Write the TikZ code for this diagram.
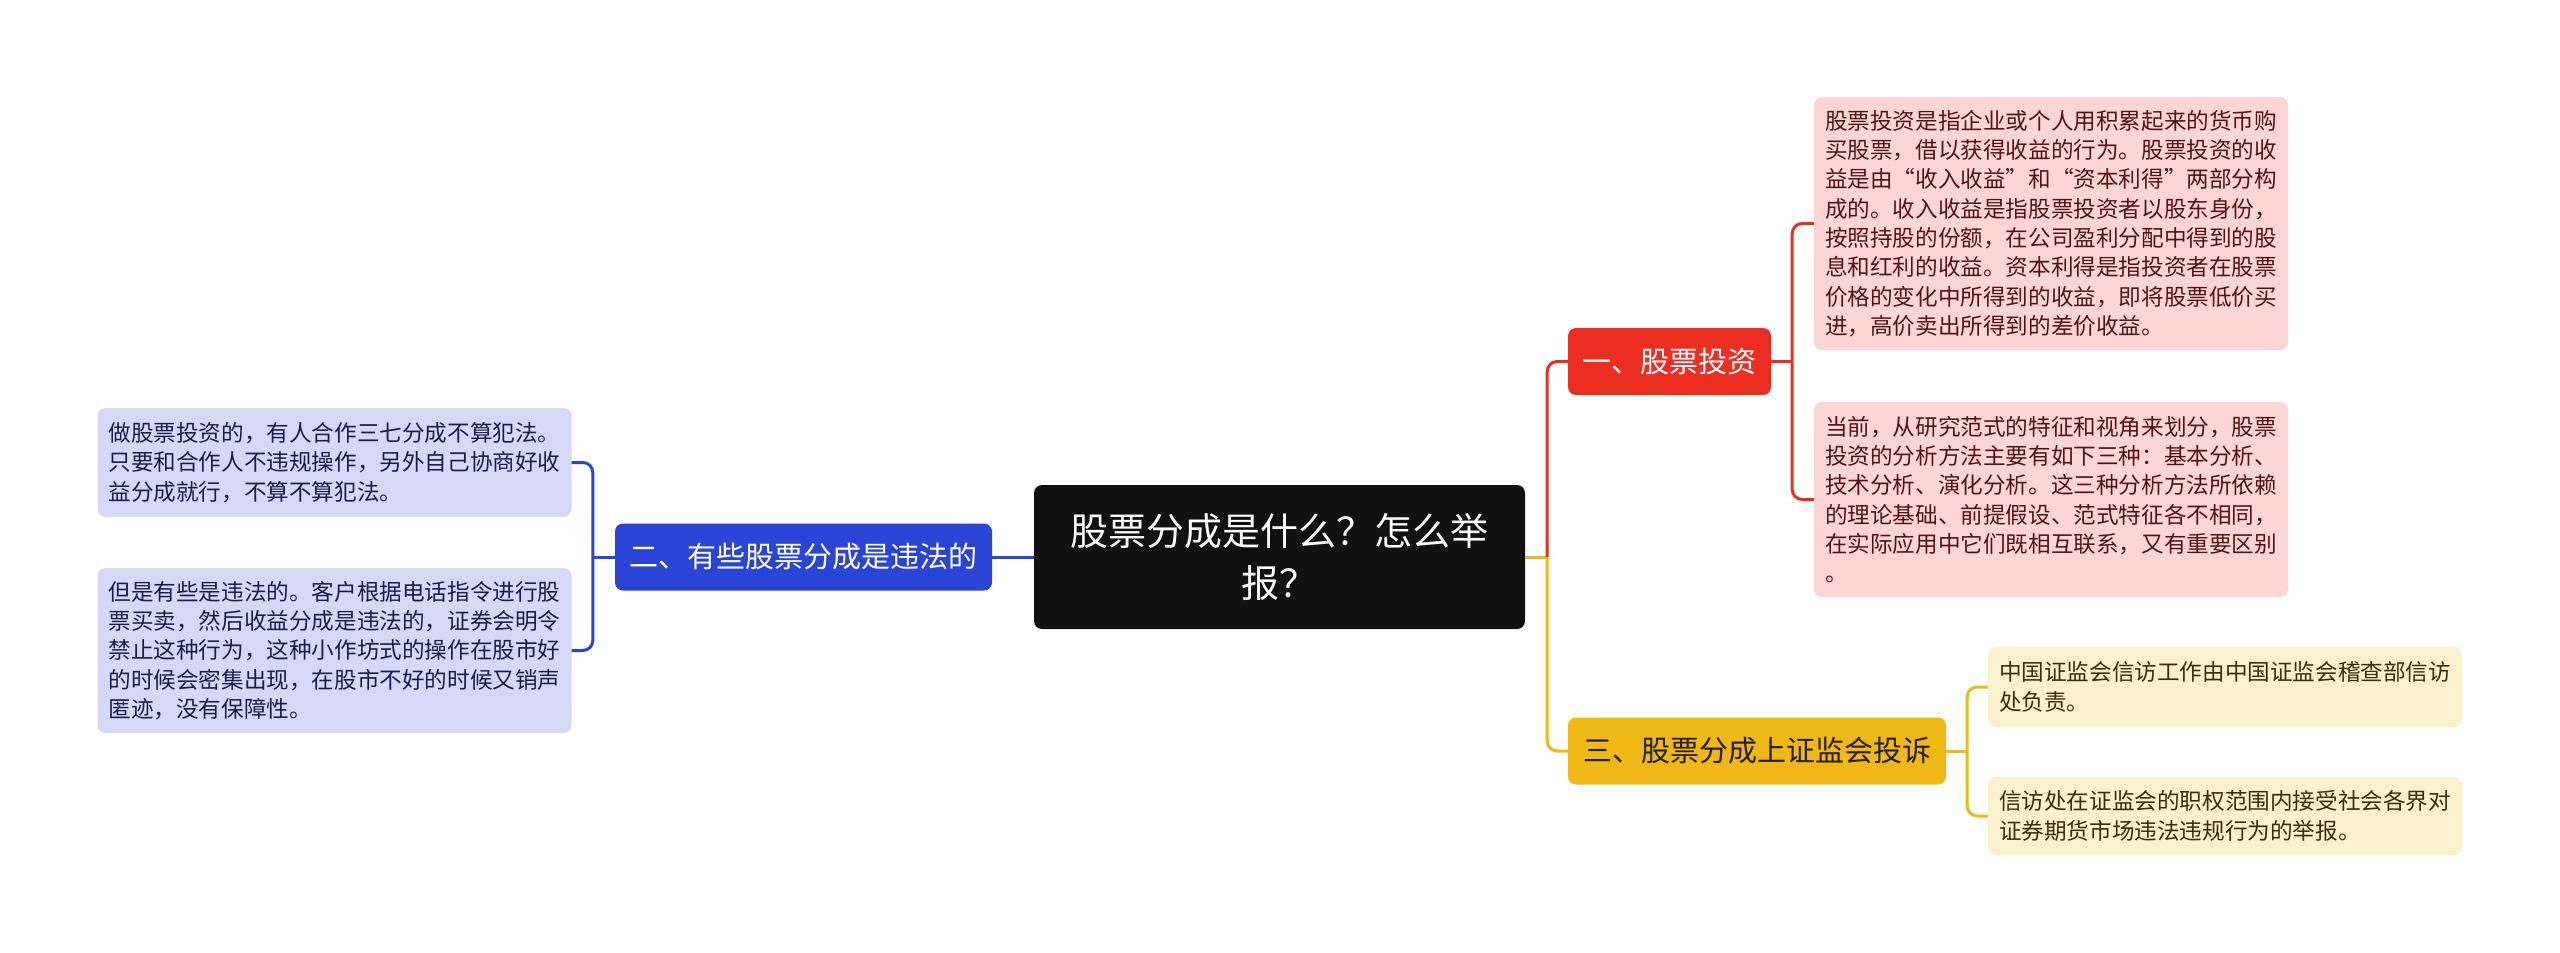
\documentclass[tikz,border=0pt]{standalone}
\usepackage{fontspec}
\setmainfont{Noto Sans CJK SC}[RawFeature={+fwid}]
\usepackage{tikz}
\definecolor{cRoot}{RGB}{17,17,17}
\definecolor{cBlue}{RGB}{41,68,214}
\definecolor{cRed}{RGB}{236,45,33}
\definecolor{cYel}{RGB}{239,184,20}
\definecolor{cYelTxt}{RGB}{35,30,20}
\definecolor{cRedLeaf}{RGB}{253,214,211}
\definecolor{cRedLeafTxt}{RGB}{80,20,20}
\definecolor{cBlueLeaf}{RGB}{213,217,247}
\definecolor{cBlueLeafTxt}{RGB}{25,30,70}
\definecolor{cYelLeaf}{RGB}{253,240,205}
\definecolor{cYelLeafTxt}{RGB}{60,45,10}

\begin{document}
\begin{tikzpicture}[x=1pt, y=-1pt,
  rootbox/.style={fill=cRoot, text=white, rounded corners=8pt, inner sep=0pt,
    minimum width=491pt, minimum height=144pt, align=center,
    font=\fontsize{38}{52}\selectfont},
  branch/.style={rounded corners=8pt, inner sep=0pt, minimum height=67pt,
    font=\fontsize{29}{35}\selectfont},
  leaf/.style={rounded corners=8pt, inner xsep=11pt, inner ysep=0pt,
    text width=452pt, align=left, font=\fontsize{22.6}{29.3}\selectfont},
  link/.style={line width=3pt, rounded corners=10pt}]

\useasboundingbox[fill=white] (0,0) rectangle (2560,953);

%---------------------------------------
% Centre and main branches
%---------------------------------------
\node[rootbox] (root) at (1279.5,557) {股票分成是什么？怎么举\\报？};

\node[branch, fill=cBlue, text=white, minimum width=377pt]
  (illegal) at (803.5,557) {二、有些股票分成是违法的};
\node[branch, fill=cRed, text=white, minimum width=203pt]
  (invest) at (1669.5,361.5) {一、股票投资};
\node[branch, fill=cYel, text=cYelTxt, minimum width=378pt]
  (report) at (1757,751) {三、股票分成上证监会投诉};

%---------------------------------------
% Leaves
%---------------------------------------
\node[leaf, fill=cRedLeaf, text=cRedLeafTxt, minimum height=253pt]
  (investA) at (2051,223.5) {股票投资是指企业或个人用积累起来的货币购\\
  买股票，借以获得收益的行为。股票投资的收\\
  益是由“收入收益”和“资本利得”两部分构\\
  成的。收入收益是指股票投资者以股东身份，\\
  按照持股的份额，在公司盈利分配中得到的股\\
  息和红利的收益。资本利得是指投资者在股票\\
  价格的变化中所得到的收益，即将股票低价买\\
  进，高价卖出所得到的差价收益。};
\node[leaf, fill=cRedLeaf, text=cRedLeafTxt, minimum height=195pt]
  (investB) at (2051,499.5) {当前，从研究范式的特征和视角来划分，股票\\
  投资的分析方法主要有如下三种：基本分析、\\
  技术分析、演化分析。这三种分析方法所依赖\\
  的理论基础、前提假设、范式特征各不相同，\\
  在实际应用中它们既相互联系，又有重要区别\\
  。};

\node[leaf, fill=cBlueLeaf, text=cBlueLeafTxt, minimum height=109pt]
  (illegalA) at (334.5,462.5) {做股票投资的，有人合作三七分成不算犯法。\\
  只要和合作人不违规操作，另外自己协商好收\\
  益分成就行，不算不算犯法。};
\node[leaf, fill=cBlueLeaf, text=cBlueLeafTxt, minimum height=165pt]
  (illegalB) at (334.5,650.5) {但是有些是违法的。客户根据电话指令进行股\\
  票买卖，然后收益分成是违法的，证券会明令\\
  禁止这种行为，这种小作坊式的操作在股市好\\
  的时候会密集出现，在股市不好的时候又销声\\
  匿迹，没有保障性。};

\node[leaf, fill=cYelLeaf, text=cYelLeafTxt, minimum height=80pt]
  (reportA) at (2225,687) {中国证监会信访工作由中国证监会稽查部信访\\
  处负责。};
\node[leaf, fill=cYelLeaf, text=cYelLeafTxt, minimum height=78pt]
  (reportB) at (2225,816) {信访处在证监会的职权范围内接受社会各界对\\
  证券期货市场违法违规行为的举报。};

%---------------------------------------
% Connectors
%---------------------------------------
\coordinate (jRoot) at ([xshift=22pt]root.east);
\coordinate (jInvest) at ([xshift=21pt]invest.east);
\coordinate (jReport) at ([xshift=21pt]report.east);
\coordinate (jIllegal) at ([xshift=-22pt]illegal.west);

\draw[link, cBlue] (root.west) -- (illegal.east);
\draw[link, cBlue] (illegal.west) -- (jIllegal);
\draw[link, cBlue] (jIllegal) |- (illegalA.east);
\draw[link, cBlue] (jIllegal) |- (illegalB.east);

\draw[link, cYel] (root.east) -- (jRoot);
\draw[link, cRed] (jRoot) |- (invest.west);
\draw[link, cYel] (jRoot) |- (report.west);

\draw[link, cRed] (invest.east) -- (jInvest);
\draw[link, cRed] (jInvest) |- (investA.west);
\draw[link, cRed] (jInvest) |- (investB.west);

\draw[link, cYel] (report.east) -- (jReport);
\draw[link, cYel] (jReport) |- (reportA.west);
\draw[link, cYel] (jReport) |- (reportB.west);

\end{tikzpicture}
\end{document}
